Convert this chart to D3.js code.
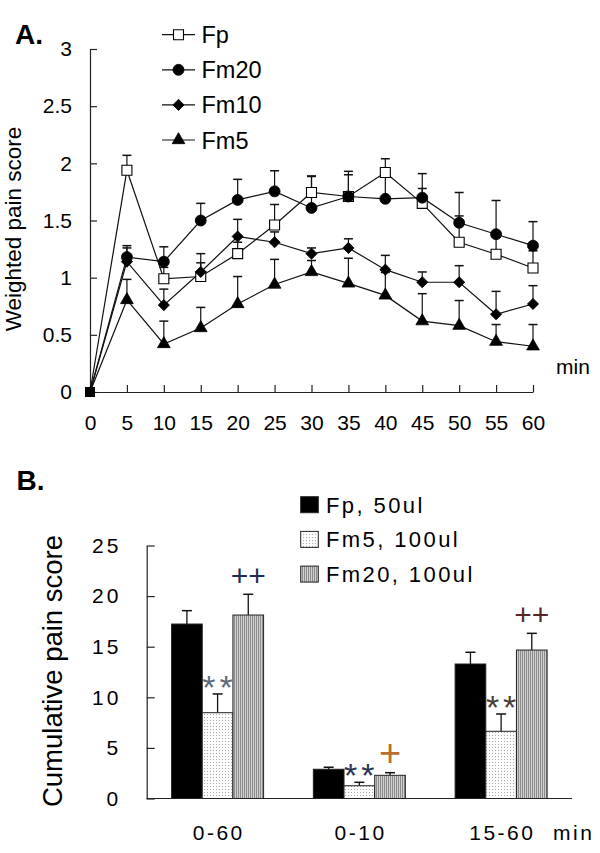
<!DOCTYPE html>
<html><head><meta charset="utf-8">
<script src="https://cdn.jsdelivr.net/npm/d3@7/dist/d3.min.js"></script>
<style>
body{margin:0;background:#fff}
svg text{font-family:"Liberation Sans",Arial,Helvetica,sans-serif}
</style>
</head><body>
<svg id="c" width="600" height="853" xmlns="http://www.w3.org/2000/svg"></svg>
<script>
// ---------- DATA : panel A (weighted pain score over time) ----------
const times = [0,5,10,15,20,25,30,35,40,45,50,55,60];
const seriesNamesA = ["Fp","Fm20","Fm10","Fm5"];
const fpMean   = [0,1.94,0.99,1.01,1.21,1.46,1.745,1.71,1.92,1.65,1.31,1.205,1.085];
const fpErr    = [0,0.13,0.10,0.12,0.10,0.18,0.14,0.22,0.12,0.13,0.23,0.15,0.15];
const fm20Mean = [0,1.18,1.14,1.50,1.68,1.755,1.61,1.71,1.69,1.70,1.48,1.38,1.28];
const fm20Err  = [0,0.10,0.13,0.15,0.18,0.18,0.28,0.19,0.22,0.21,0.265,0.295,0.21];
const fm10Mean = [0,1.14,0.76,1.05,1.36,1.31,1.21,1.26,1.07,0.96,0.96,0.68,0.77];
const fm10Err  = [0,0.12,0.14,0.16,0.15,0.09,0.05,0.08,0.125,0.09,0.145,0.20,0.16];
const fm5Mean  = [0,0.805,0.42,0.56,0.77,0.94,1.05,0.95,0.845,0.62,0.58,0.44,0.40];
const fm5Err   = [0,0.18,0.20,0.18,0.24,0.22,0.10,0.22,0.20,0.24,0.22,0.15,0.19];
const yTicksA  = [0,0.5,1,1.5,2,2.5,3];

// ---------- DATA : panel B (cumulative pain score) ----------
const groupsB = ["0-60","0-10","15-60"];
const seriesNamesB = ["Fp, 50ul","Fm5, 100ul","Fm20, 100ul"];
const fpB      = [17.24,2.89,13.29];
const fpBErr   = [1.32,0.20,1.16];
const fm5B     = [8.48,1.26,6.64];
const fm5BErr  = [1.85,0.34,1.71];
const fm20B    = [18.13,2.29,14.67];
const fm20BErr = [2.05,0.26,1.65];
const yTicksB  = [0,5,10,15,20,25];
const annotText   = ["**","++","**","+","**","++"];
const annotGroup  = [0,0,1,1,2,2];
const annotSeries = [1,2,1,2,1,2];

// ---------- drawing ----------
const svg = d3.select("#c");
const FONT = '"Liberation Sans",Arial,Helvetica,sans-serif';

// patterns
const defs = svg.append("defs");
const pDot = defs.append("pattern").attr("id","pdot").attr("patternUnits","userSpaceOnUse")
  .attr("width",3).attr("height",3);
pDot.append("rect").attr("width",3).attr("height",3).attr("fill","#fcfcfc");
pDot.append("rect").attr("x",0).attr("y",0).attr("width",1).attr("height",1).attr("fill","#a8a8a8");
const pGray = defs.append("pattern").attr("id","pgray").attr("patternUnits","userSpaceOnUse")
  .attr("width",2).attr("height",2);
pGray.append("rect").attr("width",2).attr("height",2).attr("fill","#d0d0d0");
pGray.append("rect").attr("x",0).attr("y",0).attr("width",1).attr("height",2).attr("fill","#8c8c8c");

// ===== Panel A =====
const xA = d3.scaleLinear().domain([0,60]).range([90,533]);
const yA = d3.scaleLinear().domain([0,3]).range([392,49]);

svg.append("text").attr("x",15).attr("y",44).attr("font-size",28).attr("font-weight","bold").text("A.");

const gyA = svg.append("g").attr("transform","translate(90,0)")
  .call(d3.axisLeft(yA).tickValues(yTicksA).tickSizeInner(-7).tickSizeOuter(0).tickPadding(18).tickFormat(d=>String(d)));
const gxA = svg.append("g").attr("transform","translate(0,392)")
  .call(d3.axisBottom(xA).tickValues(times).tickSizeInner(-7).tickSizeOuter(0).tickPadding(23).tickFormat(d=>String(d)));
[gyA,gxA].forEach(g=>{
  g.attr("font-size",21).attr("font-family",FONT);
  g.selectAll("path,line").attr("stroke","#222").attr("stroke-width",1.2);
  g.selectAll("text").attr("fill","#000");
});

svg.append("text").attr("transform","translate(21,229) rotate(-90)")
  .attr("text-anchor","middle").attr("font-size",22.5).text("Weighted pain score");
svg.append("text").attr("x",556).attr("y",374).attr("font-size",21).text("min");

const meansA = [fpMean,fm20Mean,fm10Mean,fm5Mean];
const errsA  = [fpErr,fm20Err,fm10Err,fm5Err];
const symType = {Fp:d3.symbolSquare, Fm20:d3.symbolCircle, Fm10:d3.symbolSquare, Fm5:d3.symbolTriangle};
const symSize = {Fp:100, Fm20:95, Fm10:62, Fm5:70};
const symRot  = {Fp:0, Fm20:0, Fm10:45, Fm5:0};
const symFill = {Fp:"#fff", Fm20:"#000", Fm10:"#000", Fm5:"#000"};
const order = [0,3,2,1]; // draw Fp, Fm5, Fm10, Fm20

const line = d3.line().x((d,i)=>xA(times[i])).y(d=>yA(d));
order.forEach(si=>{
  svg.append("path").attr("d",line(meansA[si])).attr("fill","none").attr("stroke","#111").attr("stroke-width",1.2);
});
order.forEach(si=>{
  const g = svg.append("g");
  meansA[si].forEach((v,i)=>{
    const e = errsA[si][i];
    if(e>0){
      const x = xA(times[i]);
      g.append("line").attr("x1",x).attr("x2",x).attr("y1",yA(v)).attr("y2",yA(v+e)).attr("stroke","#111").attr("stroke-width",1.2);
      g.append("line").attr("x1",x-4.5).attr("x2",x+4.5).attr("y1",yA(v+e)).attr("y2",yA(v+e)).attr("stroke","#111").attr("stroke-width",1.5);
    }
  });
});
function drawSym(g,name,x,y){
  g.append("path").attr("d",d3.symbol().type(symType[name]).size(symSize[name])())
    .attr("transform",`translate(${x},${y}) rotate(${symRot[name]})`)
    .attr("fill",symFill[name]).attr("stroke","#000").attr("stroke-width",name==="Fp"?1.1:0.8);
}
order.forEach(si=>{
  const g = svg.append("g");
  const name = seriesNamesA[si];
  meansA[si].forEach((v,i)=>{
    if(i===0){ // origin point drawn as filled square
      g.append("rect").attr("x",xA(0)-5).attr("y",yA(0)-5).attr("width",10).attr("height",10).attr("fill","#000");
    } else drawSym(g,name,xA(times[i]),yA(v));
  });
});
// legend A
seriesNamesA.forEach((n,i)=>{
  const cy = 34.7 + i*35.1;
  const g = svg.append("g");
  g.append("line").attr("x1",162).attr("x2",195).attr("y1",cy).attr("y2",cy).attr("stroke","#111").attr("stroke-width",1.2);
  drawSym(g,n,178.5,cy);
  g.append("text").attr("x",201.5).attr("y",cy+8.5).attr("font-size",23.5).text(n);
});

// ===== Panel B =====
const yB = d3.scaleLinear().domain([0,25]).range([798.5,545.5]);
const xB = d3.scaleBand().domain(groupsB).range([146.7,572]).paddingInner(0.351).paddingOuter(0.1755);
const xSub = d3.scaleBand().domain([0,1,2]).range([0,xB.bandwidth()]);

svg.append("text").attr("x",16.5).attr("y",490).attr("font-size",28).attr("font-weight","bold").text("B.");

const valsB = [fpB,fm5B,fm20B];
const errsB = [fpBErr,fm5BErr,fm20BErr];
const fillsB = ["#000","url(#pdot)","url(#pgray)"];

groupsB.forEach((grp,gi)=>{
  [0,1,2].forEach(si=>{
    const x0 = xB(grp)+xSub(si), w = xSub.bandwidth();
    const v = valsB[si][gi], e = errsB[si][gi];
    const cx = x0+w/2;
    svg.append("line").attr("x1",cx).attr("x2",cx).attr("y1",yB(v)).attr("y2",yB(v+e)).attr("stroke","#111").attr("stroke-width",1.3);
    svg.append("line").attr("x1",cx-5).attr("x2",cx+5).attr("y1",yB(v+e)).attr("y2",yB(v+e)).attr("stroke","#111").attr("stroke-width",1.5);
    svg.append("rect").attr("x",x0).attr("y",yB(v)).attr("width",w).attr("height",yB(0)-yB(v))
      .attr("fill",fillsB[si]).attr("stroke","#222").attr("stroke-width",1);
  });
});

const gyB = svg.append("g").attr("transform","translate(146.7,0)")
  .call(d3.axisLeft(yB).tickValues(yTicksB).tickSizeInner(-8).tickSizeOuter(0).tickPadding(25.4).tickFormat(d=>String(d)));
gyB.attr("font-size",21).attr("font-family",FONT);
gyB.selectAll("path,line").attr("stroke","#222").attr("stroke-width",1.2);
gyB.selectAll("text").attr("fill","#000").attr("letter-spacing",3);
svg.append("line").attr("x1",146.7).attr("x2",572).attr("y1",yB(0)).attr("y2",yB(0)).attr("stroke","#222").attr("stroke-width",1.2);

groupsB.forEach(grp=>{
  svg.append("text").attr("x",xB(grp)+xB.bandwidth()/2+1.2).attr("y",840).attr("text-anchor","middle")
    .attr("font-size",21).attr("letter-spacing",2.5).text(grp);
});
svg.append("text").attr("x",553).attr("y",840).attr("font-size",21).attr("letter-spacing",2.5).text("min");

svg.append("text").attr("transform","translate(61.5,671) rotate(-90)")
  .attr("text-anchor","middle").attr("font-size",27.5).text("Cumulative pain score");

// legend B
seriesNamesB.forEach((n,i)=>{
  const top = 496.7 + i*34.7;
  svg.append("rect").attr("x",300.7).attr("y",top).attr("width",17.6).attr("height",16)
    .attr("fill",fillsB[i]).attr("stroke","#222").attr("stroke-width",1);
  svg.append("text").attr("x",326).attr("y",top+16).attr("font-size",22).attr("letter-spacing",2.4).text(n);
});

// significance marks
const annotColor = ["#5d6a7a","#1f2d55","#2a3552","#b8702e","#4a4038","#5a2626"];
annotText.forEach((t,k)=>{
  const gi = annotGroup[k], si = annotSeries[k];
  const cx = xB(groupsB[gi]) + xSub(si) + xSub.bandwidth()/2;
  const top = yB(valsB[si][gi] + errsB[si][gi]);
  if(t==="**"){
    svg.append("text").attr("x",cx+2).attr("y",top-15+20).attr("text-anchor","middle")
      .attr("font-size",34).attr("letter-spacing",4).attr("fill",annotColor[k]).text(t);
  } else if(t==="++"){
    svg.append("text").attr("x",cx).attr("y",top-19+10.5).attr("text-anchor","middle")
      .attr("font-size",30).attr("font-weight",300).attr("fill",annotColor[k]).text(t);
  } else {
    svg.append("text").attr("x",cx).attr("y",top-20+13).attr("text-anchor","middle")
      .attr("font-size",38).attr("font-weight",300).attr("fill",annotColor[k]).text(t);
  }
});
</script>
</body></html>
